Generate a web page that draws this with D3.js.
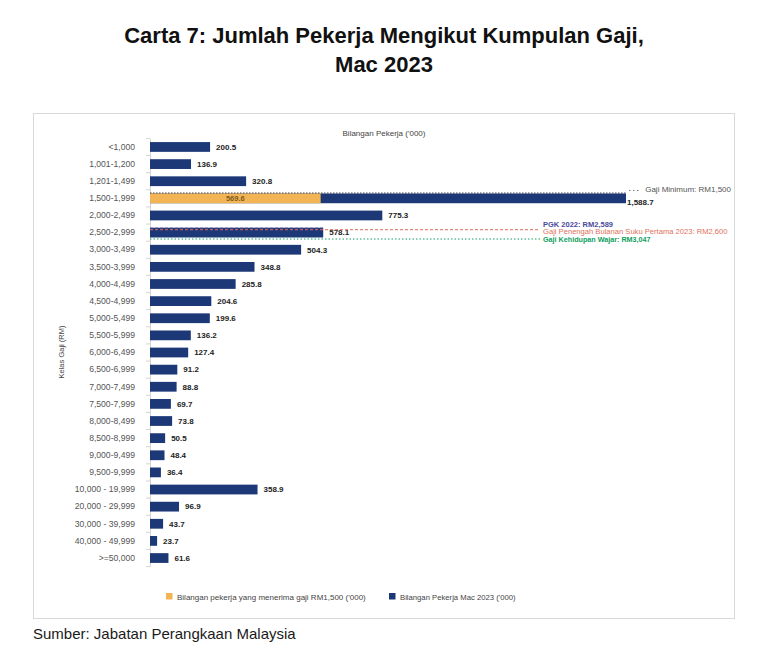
<!DOCTYPE html>
<html><head><meta charset="utf-8">
<script src="https://cdn.jsdelivr.net/npm/d3@7"></script>
<style>
body{margin:0;background:#fff;}
svg{display:block;font-family:"Liberation Sans",Arial,sans-serif;}
</style></head>
<body>
<svg id="c" width="768" height="665"></svg>
<script>
const categories = ["<1,000","1,001-1,200","1,201-1,499","1,500-1,999","2,000-2,499","2,500-2,999","3,000-3,499","3,500-3,999","4,000-4,499","4,500-4,999","5,000-5,499","5,500-5,999","6,000-6,499","6,500-6,999","7,000-7,499","7,500-7,999","8,000-8,499","8,500-8,999","9,000-9,499","9,500-9,999","10,000 - 19,999","20,000 - 29,999","30,000 - 39,999","40,000 - 49,999",">=50,000"];
const workersMac2023 = [200.5,136.9,320.8,1588.7,775.3,578.1,504.3,348.8,285.8,204.6,199.6,136.2,127.4,91.2,88.8,69.7,73.8,50.5,48.4,36.4,358.9,96.9,43.7,23.7,61.6];
const minWageCategory = ["1,500-1,999"];
const minWageWorkers = [569.6];
const refLabels = ["Gaji Minimum: RM1,500","PGK 2022: RM2,589","Gaji Penengah Bulanan Suku Pertama 2023: RM2,600","Gaji Kehidupan Wajar: RM3,047"];
const refCategories = ["1,500-1,999","2,500-2,999","2,500-2,999","2,500-2,999"];
const legendLabels = ["Bilangan pekerja yang menerima gaji RM1,500 ('000)","Bilangan Pekerja Mac 2023 ('000)"];

const NAVY="#1c3877", ORANGE="#f3b455";
const svg=d3.select("#c");

// title
svg.append("text").attr("x",384).attr("y",43).attr("text-anchor","middle")
  .attr("font-size",22).attr("font-weight","bold").attr("fill","#111")
  .text("Carta 7: Jumlah Pekerja Mengikut Kumpulan Gaji,");
svg.append("text").attr("x",384).attr("y",72).attr("text-anchor","middle")
  .attr("font-size",22).attr("font-weight","bold").attr("fill","#111")
  .text("Mac 2023");

// frame
svg.append("rect").attr("x",33.5).attr("y",113.5).attr("width",701).attr("height",505)
  .attr("fill","#fff").attr("stroke","#d9d9d9");

const x=d3.scaleLinear().domain([0,1600]).range([150,629.4]);
const y=d3.scaleBand().domain(categories).range([138.4,566.6]).paddingInner(0.43).paddingOuter(0.215);

svg.append("text").attr("x",384).attr("y",136).attr("text-anchor","middle")
  .attr("font-size",8).attr("fill","#444").text("Bilangan Pekerja ('000)");
svg.append("text").attr("transform","translate(64,352) rotate(-90)").attr("text-anchor","middle")
  .attr("font-size",7.5).attr("fill","#444").text("Kelas Gaji (RM)");

// axis
const yAxis=d3.axisLeft(y).tickSize(0).tickPadding(15);
const ga=svg.append("g").attr("transform","translate(150,0)").call(yAxis);
ga.select(".domain").attr("stroke","#d4d4d4");
ga.selectAll("text").attr("font-size",8.6).attr("fill","#555").attr("font-family","Liberation Sans,Arial,sans-serif");
// tick marks between categories
const step=y.step();
svg.append("g").selectAll("line").data(categories.concat(["_end"])).join("line")
  .attr("x1",146).attr("x2",150)
  .attr("y1",(d,i)=>138.4+i*step).attr("y2",(d,i)=>138.4+i*step)
  .attr("stroke","#d4d4d4");

// navy bars
svg.append("g").selectAll("rect").data(categories).join("rect")
  .attr("x",x(0)).attr("y",d=>y(d)).attr("height",y.bandwidth())
  .attr("width",(d,i)=>x(workersMac2023[i])-x(0)).attr("fill",NAVY);
// orange overlay
svg.append("g").selectAll("rect").data(minWageCategory).join("rect")
  .attr("x",x(0)).attr("y",d=>y(d)).attr("height",y.bandwidth())
  .attr("width",(d,i)=>x(minWageWorkers[i])-x(0)).attr("fill",ORANGE);
svg.append("g").selectAll("text").data(minWageCategory).join("text")
  .attr("x",(d,i)=>x(minWageWorkers[i]/2)).attr("y",d=>y(d)+y.bandwidth()/2+2.8)
  .attr("text-anchor","middle").attr("font-size",7.5).attr("font-weight","bold").attr("fill","#7a5d22")
  .text((d,i)=>minWageWorkers[i].toFixed(1));

// value labels
const fmt=d3.format(",.1f");
svg.append("g").selectAll("text").data(categories).join("text")
  .attr("x",(d,i)=>x(workersMac2023[i])+(d==="1,500-1,999"?1:6))
  .attr("y",(d,i)=>y(d)+y.bandwidth()/2+(d==="1,500-1,999"?6.5:2.8))
  .attr("font-size",8).attr("font-weight","bold").attr("fill","#222")
  .text((d,i)=>fmt(workersMac2023[i]));

// reference lines
const b1=y(refCategories[0]);
svg.append("line").attr("x1",150).attr("x2",x(1588.7)).attr("y1",b1-0.5).attr("y2",b1-0.5)
  .attr("stroke","#444").attr("stroke-width",0.9).attr("stroke-dasharray","1.5,1.5");
svg.append("line").attr("x1",x(1588.7)+3).attr("x2",x(1588.7)+13).attr("y1",b1-3).attr("y2",b1-3)
  .attr("stroke","#777").attr("stroke-width",1).attr("stroke-dasharray","1.5,2.5");
svg.append("text").attr("x",731).attr("y",b1-1).attr("text-anchor","end")
  .attr("font-size",8).attr("fill","#555").text(refLabels[0]);

const b2=y(refCategories[1]);
const lineEnd=540;
svg.append("line").attr("x1",150).attr("x2",x(578.1)).attr("y1",b2+0.5).attr("y2",b2+0.5)
  .attr("stroke","#4a3f8c").attr("stroke-width",1).attr("stroke-dasharray","3,2");
svg.append("line").attr("x1",150).attr("x2",lineEnd).attr("y1",b2+2).attr("y2",b2+2)
  .attr("stroke","#e06a5a").attr("stroke-width",1).attr("stroke-dasharray","3,2");
svg.append("line").attr("x1",150).attr("x2",lineEnd).attr("y1",b2+y.bandwidth()+1.5).attr("y2",b2+y.bandwidth()+1.5)
  .attr("stroke","#12a06a").attr("stroke-width",1.2).attr("stroke-dasharray","1.5,2");
svg.append("text").attr("x",543).attr("y",b2-1).attr("font-size",7.5).attr("font-weight","bold").attr("fill","#4a4a9a").text(refLabels[1]);
svg.append("text").attr("x",543).attr("y",b2+6.5).attr("font-size",7.6).attr("fill","#e0705a").text(refLabels[2]);
svg.append("text").attr("x",543).attr("y",b2+14).attr("font-size",7.2).attr("font-weight","bold").attr("fill","#10a060").text(refLabels[3]);

// legend
const lg=svg.append("g");
[[166,ORANGE],[389,NAVY]].forEach((p,i)=>{
  lg.append("rect").attr("x",p[0]).attr("y",593).attr("width",6.5).attr("height",6.5).attr("fill",p[1]);
  lg.append("text").attr("x",p[0]+11).attr("y",599.5).attr("font-size",i===0?8:7.7).attr("fill","#444").text(legendLabels[i]);
});

svg.append("text").attr("x",33).attr("y",639).attr("font-size",15).attr("fill","#1a1a1a")
  .text("Sumber: Jabatan Perangkaan Malaysia");
</script>
</body></html>
